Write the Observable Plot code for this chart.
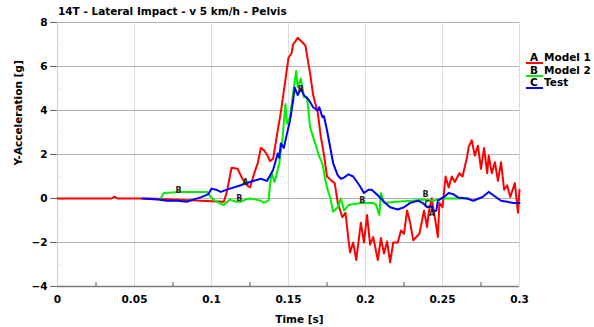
<!DOCTYPE html>
<html><head><meta charset="utf-8">
<script src="https://cdn.jsdelivr.net/npm/d3@7"></script>
<script src="https://cdn.jsdelivr.net/npm/@observablehq/plot@0.6"></script>
<style>
body{margin:0;background:#fff;font-family:"DejaVu Sans",sans-serif;}
#wrap{position:relative;width:594px;height:327px;overflow:hidden;}
#title{position:absolute;left:58px;top:5px;font:bold 10.5px "DejaVu Sans";color:#000;white-space:nowrap;}
#legend{position:absolute;left:526px;top:51px;font:bold 10.5px "DejaVu Sans";color:#000;}
.row{height:12.7px;line-height:12px;white-space:nowrap;}
.sw{display:inline-block;width:13px;padding-left:4px;height:10px;line-height:10px;border-bottom:2px solid;margin-right:1px;}
</style>
</head><body>
<div id="wrap">
<div id="chart"></div>
<div id="title"></div>
<div id="legend"></div>
</div>
<script>
const titleText = "14T - Lateral Impact - v 5 km/h - Pelvis";
const xLabel = "Time [s]";
const yLabel = "Y-Acceleration [g]";
const xTicks = [0, 0.05, 0.1, 0.15, 0.2, 0.25, 0.3];
const xTickLabels = ["0", "0.05", "0.1", "0.15", "0.2", "0.25", "0.3"];
const xMinor = [0.025, 0.075, 0.125, 0.175, 0.225, 0.275];
const yTicks = [-4, -2, 0, 2, 4, 6, 8];
const yMinor = [-3, -1, 1, 3, 5, 7];
const seriesNames = ["Model 1", "Model 2", "Test"];
const seriesLetters = ["A", "B", "C"];
const seriesColors = ["#ff0000", "#00ee00", "#0000ff"];

const model1T = [0,0.035,0.037,0.039,0.041,0.06,0.108,0.110,0.113,0.117,0.120,0.123,0.125,0.128,0.130,0.132,0.134,0.136,0.138,0.140,0.143,0.145,0.148,0.150,0.152,0.153,0.156,0.159,0.161,0.163,0.164,0.166,0.169,0.171,0.173,0.175,0.178,0.180,0.182,0.185,0.187,0.189,0.190,0.192,0.194,0.197,0.199,0.201,0.203,0.205,0.208,0.210,0.212,0.214,0.216,0.218,0.221,0.223,0.225,0.227,0.229,0.231,0.235,0.238,0.240,0.241,0.243,0.245,0.247,0.248,0.250,0.252,0.254,0.256,0.258,0.261,0.263,0.266,0.267,0.269,0.271,0.273,0.275,0.277,0.279,0.280,0.282,0.284,0.286,0.288,0.290,0.292,0.294,0.297,0.299,0.300];
const model1Y = [0,0,0.08,0,0,0,-0.15,0.3,1.4,1.35,0.9,0.6,0.5,1.2,1.6,2.3,2.2,2.0,1.7,1.8,3.1,3.9,5.4,6.4,6.6,7.0,7.3,7.1,6.95,6.1,5.7,4.7,3.9,2.8,2.0,1.0,0.8,0.7,-0.2,-0.85,-0.65,-1.9,-2.45,-2.0,-2.8,-1.1,-2.0,-0.75,-2.1,-1.75,-2.8,-1.8,-2.5,-1.95,-2.9,-2.0,-2.0,-1.45,-1.6,-0.55,-1.1,-1.9,-1.6,-0.55,-1.3,-0.65,0,-0.85,-1.75,-0.2,-0.4,1.0,0.5,1.0,0.75,1.15,1.0,1.9,2.35,2.65,1.95,2.4,1.35,2.3,1.15,1.95,1.15,1.65,0.8,1.65,0.4,0.6,0.07,0.7,-0.65,0.4];

const model2T = [0.067,0.069,0.080,0.090,0.097,0.101,0.105,0.108,0.112,0.116,0.119,0.122,0.125,0.129,0.132,0.134,0.137,0.138,0.139,0.141,0.144,0.146,0.148,0.149,0.151,0.153,0.155,0.156,0.158,0.160,0.162,0.164,0.166,0.170,0.172,0.174,0.176,0.177,0.179,0.182,0.184,0.186,0.189,0.197,0.205,0.207,0.209,0.210,0.212,0.220,0.230,0.238,0.244,0.249,0.258,0.267];
const model2Y = [0,0.25,0.3,0.3,0.3,-0.05,-0.2,-0.3,-0.05,-0.15,-0.15,-0.05,0,-0.05,-0.1,-0.2,-0.1,0.6,1.15,0.75,1.6,2.65,4.3,3.4,3.7,4.8,5.8,5.05,5.45,4.6,4.6,3.25,2.8,1.9,1.6,0.8,0.25,0.07,-0.6,-0.4,0,-0.55,-0.3,-0.2,-0.2,-0.3,-0.75,0.25,-0.2,-0.15,-0.1,-0.05,-0.1,0,0,0];

const testT = [0.055,0.065,0.071,0.078,0.084,0.088,0.093,0.098,0.100,0.103,0.106,0.112,0.119,0.125,0.132,0.136,0.140,0.143,0.144,0.145,0.147,0.149,0.151,0.153,0.154,0.156,0.158,0.160,0.163,0.166,0.169,0.170,0.172,0.173,0.175,0.177,0.179,0.182,0.184,0.186,0.189,0.192,0.196,0.199,0.202,0.204,0.208,0.212,0.216,0.221,0.225,0.229,0.234,0.237,0.240,0.243,0.244,0.246,0.247,0.251,0.254,0.257,0.260,0.266,0.270,0.276,0.280,0.283,0.288,0.292,0.296,0.300];
const testY = [0,-0.05,-0.1,-0.1,-0.15,-0.05,0.05,0.2,0.45,0.4,0.3,0.45,0.6,0.75,0.9,0.8,1.3,2.05,1.85,2.5,2.3,2.95,3.55,4.45,5.05,4.7,5.0,4.7,4.5,4.15,4.0,4.15,3.7,3.75,3.1,2.35,1.6,1.05,0.9,0.95,1.1,1.0,0.6,0.25,0.4,0.4,0.15,-0.15,-0.4,-0.5,-0.4,-0.2,-0.1,-0.2,-0.4,-0.35,-0.6,-0.55,-0.1,0.07,0.25,0.2,0.05,0,-0.1,0.07,0.3,0.15,-0.1,-0.15,-0.2,-0.2];

const markerT = [0.0786, 0.118, 0.122, 0.158, 0.198, 0.239, 0.240, 0.243];
const markerY = [0.38, 0.0, 0.75, 4.95, -0.08, 0.17, -0.25, -0.68];
const markerText = ["B", "B", "A", "B", "B", "B", "C", "A"];

const toRows = (T, Y) => T.map((t, i) => ({t, y: Y[i]}));
const s1 = toRows(model1T, model1Y);
const s2 = toRows(model2T, model2Y);
const s3 = toRows(testT, testY);
const markers = markerT.map((t, i) => ({t, y: markerY[i], s: markerText[i]}));

const chart = Plot.plot({
  width: 594, height: 327,
  marginLeft: 57, marginRight: 75, marginTop: 22, marginBottom: 41,
  style: {fontFamily: "DejaVu Sans", fontSize: "10.5px", fontWeight: "bold", background: "white", color: "#000", overflow: "visible"},
  x: {domain: [0, 0.3]},
  y: {domain: [-4, 8]},
  marks: [
    Plot.ruleX(xTicks.slice(1), {stroke: "#dcdcdc", strokeWidth: 1}),
    Plot.ruleY(yTicks.slice(1), {stroke: "#b3b3b3", strokeWidth: 1}),
    Plot.ruleX([0], {stroke: "#d0d0d0"}),
    Plot.ruleY([-4], {stroke: "#7a7a7a", strokeWidth: 1.5}),
    Plot.axisX({ticks: xMinor, tickSize: -4, tickFormat: () => "", stroke: "#555", label: null}),
    Plot.axisX({ticks: xTicks, tickSize: 0, tickPadding: 9, tickFormat: d => xTickLabels[xTicks.indexOf(d)], label: null}),
    Plot.axisY({ticks: yMinor, tickSize: -3, tickFormat: () => "", stroke: "#e0e0e0", label: null}),
    Plot.axisY({ticks: yTicks, tickSize: 7, tickPadding: 3, stroke: "#666", label: null}),
    Plot.text([yLabel], {frameAnchor: "left", rotate: -90, dx: -39, dy: 11, fontWeight: "bold", fontSize: 10.5}),
    Plot.text([xLabel], {frameAnchor: "bottom", lineAnchor: "middle", dx: 11, dy: 33, fontWeight: "bold", fontSize: 10.5}),
    Plot.line(s1, {x: "t", y: "y", stroke: seriesColors[0], strokeWidth: 2}),
    Plot.line(s2, {x: "t", y: "y", stroke: seriesColors[1], strokeWidth: 2}),
    Plot.line(s3, {x: "t", y: "y", stroke: seriesColors[2], strokeWidth: 2}),
    Plot.text(markers, {x: "t", y: "y", text: "s", fontSize: 8, fontWeight: "bold", fill: "#222"})
  ]
});
document.getElementById("chart").appendChild(chart);
document.getElementById("title").textContent = titleText;
const leg = document.getElementById("legend");
seriesNames.forEach((n, i) => {
  const row = document.createElement("div");
  row.className = "row";
  const sw = document.createElement("span");
  sw.className = "sw";
  sw.style.borderBottomColor = seriesColors[i];
  sw.textContent = seriesLetters[i];
  row.appendChild(sw);
  row.appendChild(document.createTextNode(n));
  leg.appendChild(row);
});
</script>
</body></html>
